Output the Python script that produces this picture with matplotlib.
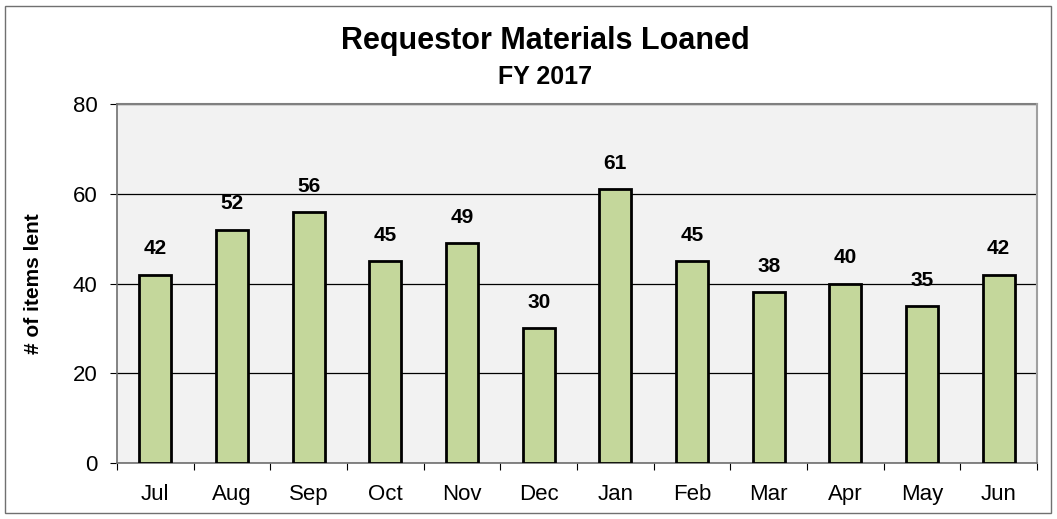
import matplotlib
matplotlib.use("Agg")
import matplotlib.pyplot as plt
from matplotlib.patches import Rectangle

plt.rcParams['font.family'] = ['Liberation Sans', 'DejaVu Sans']

months = ['Jul', 'Aug', 'Sep', 'Oct', 'Nov', 'Dec', 'Jan', 'Feb', 'Mar', 'Apr', 'May', 'Jun']
loaned = [42, 52, 56, 45, 49, 30, 61, 45, 38, 40, 35, 42]
y_ticks = [0, 20, 40, 60, 80]

fig = plt.figure(figsize=(10.57, 5.19), dpi=100)
ax = fig.add_axes([117 / 1057, 56 / 519, 920 / 1057, 359 / 519])

# outer chart border
fig.patches.append(Rectangle((5 / 1057, 6 / 519), 1046 / 1057, 507 / 519,
                             transform=fig.transFigure, fill=False,
                             edgecolor='#707070', linewidth=1))

x = list(range(len(months)))
ax.set_facecolor('#f2f2f2')
ax.bar(x, loaned, width=0.42, color='#c4d79b', edgecolor='black', linewidth=2, zorder=3)
for xi, v in zip(x, loaned):
    ax.text(xi, v + 3.6, str(v), ha='center', va='bottom', fontsize=15, fontweight='bold')

ax.set_xlim(-0.5, len(months) - 0.5)
ax.set_ylim(0, 80)
ax.set_yticks(y_ticks)
ax.yaxis.grid(True, color='black', linewidth=0.9, zorder=1)
ax.tick_params(axis='y', labelsize=16, length=5, direction='out', pad=9)

ax.set_xticks([i - 0.5 for i in range(len(months) + 1)])
ax.set_xticklabels([])
ax.set_xticks(x, minor=True)
ax.set_xticklabels(months, minor=True, fontsize=16)
ax.tick_params(axis='x', which='major', length=5, direction='out')
ax.tick_params(axis='x', which='minor', length=0, pad=15)

for side in ['top', 'right']:
    ax.spines[side].set_visible(False)
ax.spines['left'].set_color('#707070')
ax.spines['bottom'].set_color('#707070')
ax.spines['left'].set_linewidth(1.2)
ax.spines['bottom'].set_linewidth(1.2)
ax.plot([0, 1], [1, 1], transform=ax.transAxes, color='#808080', linewidth=1.5, clip_on=False, zorder=2)
ax.plot([1, 1], [0, 1], transform=ax.transAxes, color='#a0a0a0', linewidth=1.5, clip_on=False)

ax.set_ylabel('# of items lent', fontsize=15, fontweight='bold')
ax.yaxis.set_label_coords(-74 / 920, 0.5)

fig.text(545 / 1057, 1 - 41 / 519, 'Requestor Materials Loaned', ha='center', va='center',
         fontsize=22, fontweight='bold')
fig.text(545 / 1057, 1 - 77 / 519, 'FY 2017', ha='center', va='center',
         fontsize=18, fontweight='bold')

fig.savefig('out.png', dpi=100)
